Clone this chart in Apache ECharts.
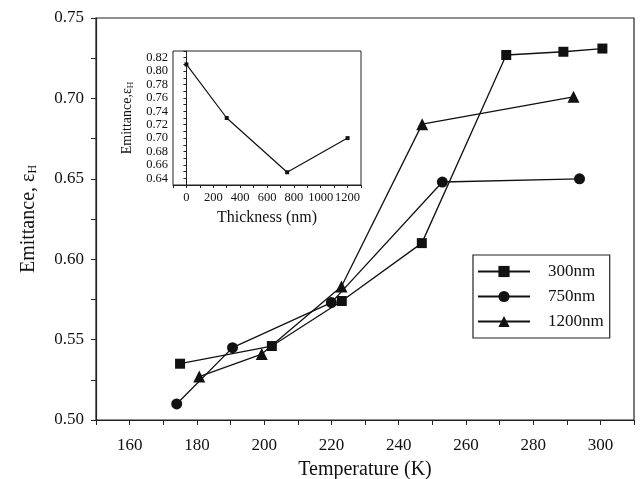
<!DOCTYPE html>
<html>
<head>
<meta charset="utf-8">
<script src="https://cdn.jsdelivr.net/npm/echarts@6/dist/echarts.min.js"></script>
<style>
  html, body { margin: 0; padding: 0; background: #fff; }
  #chart { width: 640px; height: 479px; }
</style>
</head>
<body>
<div id="chart"></div>
<script>
// main plot: emittance vs temperature for three film thicknesses
const temp300 = [175, 202.3, 223.1, 246.9, 272, 289, 300.6]
const eps300 = [0.535, 0.546, 0.574, 0.610, 0.727, 0.729, 0.731]
const temp750 = [174, 190.6, 220, 253, 293.8]
const eps750 = [0.510, 0.545, 0.573, 0.648, 0.650]
const temp1200 = [180.7, 199.3, 223, 247, 292]
const eps1200 = [0.527, 0.541, 0.583, 0.684, 0.701]
// inset: emittance vs thickness
const thickness = [0, 300, 750, 1200]
const epsThick = [0.810, 0.730, 0.649, 0.700]
const seriesNames = ['300nm', '750nm', '1200nm']

const font = 'Liberation Serif, Times New Roman, serif'
const ink = '#111'
const axisLine = { show: true, lineStyle: { color: '#222', width: 1.2 } }

const zip = (xs, ys) => xs.map((x, i) => [x, ys[i]])

const chart = echarts.init(document.getElementById('chart'))
chart.setOption({
  backgroundColor: '#fff',
  animation: false,
  grid: [
    { left: 96, right: 6, top: 18, bottom: 59, outerBoundsMode: 'none', show: true, borderColor: '#222', borderWidth: 1.2, backgroundColor: 'transparent' },
    { left: 173, top: 51, width: 188, height: 134, outerBoundsMode: 'none', show: true, borderColor: '#222', borderWidth: 1, backgroundColor: '#fff' },
  ],
  legend: {
    orient: 'vertical',
    left: 473,
    top: 255,
    padding: [8, 6, 8, 4],
    borderColor: '#222',
    borderWidth: 1.2,
    itemWidth: 52,
    itemHeight: 14,
    itemGap: 8,
    data: seriesNames,
    textStyle: { fontFamily: font, fontSize: 17, color: ink, padding: [0, 0, 0, 13] },
  },
  xAxis: [
    {
      gridIndex: 0,
      type: 'value',
      min: 150,
      max: 310,
      interval: 10,
      axisLine: axisLine,
      axisTick: { show: true, inside: false, length: 5, lineStyle: { color: '#222' } },
      splitLine: { show: false },
      axisLabel: {
        margin: 17,
        fontFamily: font, fontSize: 17, color: ink,
        formatter: (v) => (v % 20 === 0 && v > 150 && v < 310 ? String(v) : ''),
      },
      name: 'Temperature (K)',
      nameLocation: 'middle',
      nameGap: 40,
      nameTextStyle: { fontFamily: font, fontSize: 20, color: ink },
    },
    {
      gridIndex: 1,
      type: 'value',
      min: -100,
      max: 1300,
      interval: 100,
      axisLine: { show: true, lineStyle: { color: '#222', width: 1 } },
      axisTick: { show: true, length: 3, lineStyle: { color: '#222' } },
      splitLine: { show: false },
      axisLabel: {
        margin: 6,
        fontFamily: font, fontSize: 12.5, color: ink,
        formatter: (v) => (v % 200 === 0 && v >= 0 && v <= 1200 ? String(v) : ''),
      },
      name: 'Thickness (nm)',
      nameLocation: 'middle',
      nameGap: 25,
      nameTextStyle: { fontFamily: font, fontSize: 16, color: ink },
    },
  ],
  yAxis: [
    {
      gridIndex: 0,
      type: 'value',
      min: 0.5,
      max: 0.75,
      interval: 0.025,
      axisLine: axisLine,
      axisTick: { show: true, length: 5, lineStyle: { color: '#222' } },
      splitLine: { show: false },
      axisLabel: {
        margin: 12,
        fontFamily: font, fontSize: 17, color: ink,
        formatter: (v) => (Math.round(v * 1000) % 50 === 0 ? v.toFixed(2) : ''),
      },
      name: 'Emittance, ε{sub|H}',
      nameLocation: 'middle',
      nameGap: 57,
      nameTextStyle: {
        fontFamily: font, fontSize: 20, color: ink,
        rich: { sub: { fontFamily: font, fontSize: 12, color: ink, verticalAlign: 'bottom', padding: [8, 0, 0, 0] } },
      },
    },
    {
      gridIndex: 1,
      type: 'value',
      min: 0.63,
      max: 0.83,
      interval: 0.01,
      axisLine: { show: true, lineStyle: { color: '#222', width: 1 } },
      axisTick: { show: true, length: 3, lineStyle: { color: '#222' } },
      splitLine: { show: false },
      axisLabel: {
        margin: 5,
        fontFamily: font, fontSize: 12.5, color: ink,
        formatter: (v) => (Math.round(v * 100) % 2 === 0 ? v.toFixed(2) : ''),
      },
      name: 'Emittance,ε{sub|H}',
      nameLocation: 'middle',
      nameGap: 38,
      nameTextStyle: {
        fontFamily: font, fontSize: 14, color: ink,
        rich: { sub: { fontFamily: font, fontSize: 9, color: ink, verticalAlign: 'bottom', padding: [6, 0, 0, 0] } },
      },
    },
  ],
  series: [
    {
      name: seriesNames[0],
      type: 'line',
      xAxisIndex: 0, yAxisIndex: 0,
      data: zip(temp300, eps300),
      symbol: 'rect', symbolSize: 10,
      itemStyle: { color: '#111' },
      lineStyle: { color: '#111', width: 1.3 },
    },
    {
      name: seriesNames[1],
      type: 'line',
      xAxisIndex: 0, yAxisIndex: 0,
      data: zip(temp750, eps750),
      symbol: 'circle', symbolSize: 11,
      itemStyle: { color: '#111' },
      lineStyle: { color: '#111', width: 1.3 },
    },
    {
      name: seriesNames[2],
      type: 'line',
      xAxisIndex: 0, yAxisIndex: 0,
      data: zip(temp1200, eps1200),
      symbol: 'triangle', symbolSize: 12,
      itemStyle: { color: '#111' },
      lineStyle: { color: '#111', width: 1.3 },
    },
    {
      name: 'inset',
      type: 'line',
      xAxisIndex: 1, yAxisIndex: 1,
      data: zip(thickness, epsThick),
      symbol: 'rect', symbolSize: 4,
      itemStyle: { color: '#111' },
      lineStyle: { color: '#111', width: 1.2 },
    },
  ],
})
</script>
</body>
</html>
